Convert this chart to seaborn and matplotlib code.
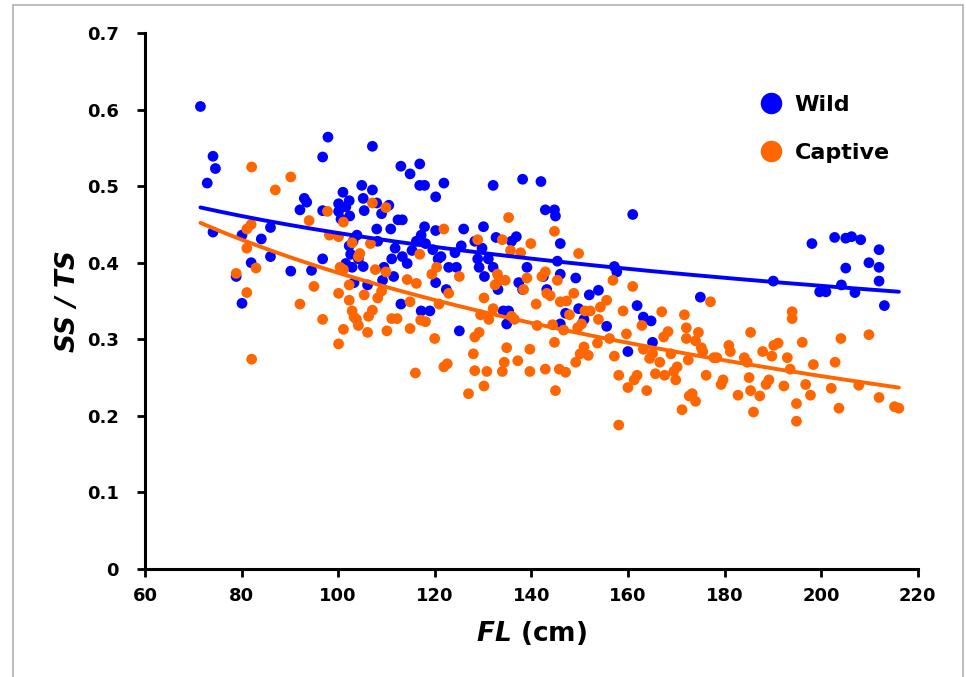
import numpy as np
import pandas as pd
import matplotlib
matplotlib.use("Agg")
import matplotlib.pyplot as plt
from matplotlib.patches import Rectangle
import seaborn as sns

# Datos: FL (cm) y SS/TS
wild_fl = [71.5, 72.9, 74.1, 74.6, 74.1, 78.9, 80.1, 80.1, 82.0, 84.1, 86.0, 86.0,
           90.2, 92.1, 93.0, 93.5, 94.5, 96.8, 96.8, 96.8, 97.9, 100.1, 100.1, 100.6,
           101.0, 101.6, 102.3, 102.4, 101.6, 102.3, 102.6, 102.9, 103.1, 103.9, 103.3,
           104.2, 104.9, 105.2, 105.4, 105.2, 106.1, 107.1, 107.1, 108.0, 108.0, 108.2,
           109.0, 109.2, 109.5, 110.5, 110.9, 111.1, 111.5, 111.8, 112.4, 113.0, 113.3,
           113.3, 113.0, 114.3, 114.9, 115.3, 116.2, 116.9, 116.9, 117.2, 117.9, 117.9,
           117.2, 118.1, 119.0, 119.6, 120.2, 120.2, 120.2, 120.7, 121.3, 121.9, 122.4,
           122.9, 124.2, 124.5, 125.1, 125.5, 126.0, 128.3, 128.9, 129.2, 129.8, 130.1,
           130.3, 131.1, 132.1, 132.1, 132.7, 133.1, 134.2, 134.9, 135.3, 135.9, 136.9,
           137.4, 138.2, 138.2, 139.1, 142.0, 142.5, 142.9, 143.2, 144.8, 145.0, 145.4,
           146.0, 146.0, 146.0, 147.1, 149.2, 149.8, 150.9, 152.0, 153.9, 155.6, 157.2,
           157.7, 160.0, 161.0, 161.9, 163.2, 164.8, 165.1, 175.0, 190.1, 198.1, 199.7,
           201.0, 202.8, 204.2, 205.1, 205.1, 206.3, 207.0, 208.2, 209.9, 212.0, 212.0,
           212.0, 213.1]
wild_ratio = [0.604, 0.504, 0.539, 0.523, 0.440, 0.382, 0.347, 0.436, 0.400, 0.431, 0.446, 0.408,
              0.389, 0.469, 0.484, 0.479, 0.390, 0.538, 0.468, 0.405, 0.564, 0.477, 0.467, 0.457,
              0.492, 0.473, 0.481, 0.461, 0.399, 0.422, 0.411, 0.394, 0.428, 0.436, 0.374,
              0.405, 0.501, 0.484, 0.468, 0.395, 0.371, 0.552, 0.495, 0.478, 0.444, 0.428,
              0.464, 0.377, 0.394, 0.475, 0.444, 0.405, 0.382, 0.419, 0.456, 0.526, 0.456,
              0.408, 0.346, 0.399, 0.516, 0.416, 0.428, 0.529, 0.501, 0.436, 0.501, 0.447,
              0.337, 0.425, 0.337, 0.417, 0.486, 0.442, 0.374, 0.405, 0.408, 0.504, 0.365,
              0.394, 0.413, 0.394, 0.311, 0.422, 0.444, 0.428, 0.405, 0.394, 0.419, 0.447,
              0.382, 0.405, 0.501, 0.394, 0.433, 0.365, 0.337, 0.320, 0.337, 0.428, 0.434,
              0.374, 0.509, 0.365, 0.394, 0.506, 0.382, 0.469, 0.365, 0.469, 0.461, 0.402,
              0.425, 0.385, 0.320, 0.334, 0.380, 0.340, 0.326, 0.358, 0.364, 0.317, 0.395,
              0.388, 0.284, 0.463, 0.344, 0.329, 0.324, 0.296, 0.355, 0.376, 0.425, 0.362,
              0.362, 0.433, 0.371, 0.432, 0.393, 0.434, 0.361, 0.430, 0.400, 0.417, 0.394,
              0.376, 0.344]

captive_fl = [78.9, 81.1, 81.1, 81.1, 82.0, 82.1, 82.1, 83.0, 87.0, 90.2, 92.1, 94.0,
              95.0, 96.8, 97.8, 98.2, 100.1, 100.1, 100.1, 100.4, 101.1, 101.1, 101.1, 102.3,
              102.3, 102.9, 103.3, 103.8, 104.2, 104.2, 104.5, 105.4, 106.1, 106.3, 106.7,
              107.1, 107.1, 107.7, 108.2, 109.0, 109.9, 109.9, 110.1, 111.1, 112.2, 114.3,
              114.9, 114.9, 116.0, 116.2, 116.9, 117.1, 118.1, 119.4, 120.0, 120.4, 120.9,
              121.9, 121.9, 122.6, 122.9, 125.1, 127.0, 128.0, 128.3, 128.3, 128.9, 129.2,
              129.5, 130.2, 130.2, 130.8, 131.2, 132.1, 132.5, 133.0, 133.4, 134.0, 134.0,
              134.4, 134.6, 134.9, 135.3, 135.7, 135.9, 136.5, 137.2, 137.8, 138.4, 139.1,
              139.7, 139.7, 139.9, 141.0, 141.2, 142.2, 142.9, 142.9, 143.2, 143.9, 144.4,
              144.8, 144.8, 145.0, 145.4, 145.8, 146.0, 146.7, 147.1, 147.3, 147.9, 148.8,
              149.2, 149.6, 149.8, 150.1, 150.4, 150.9, 151.1, 151.8, 152.2, 153.7, 153.9,
              154.3, 155.6, 156.2, 156.9, 157.2, 158.1, 158.1, 159.0, 159.7, 160.0, 161.0,
              161.3, 161.9, 162.9, 163.2, 163.9, 164.5, 165.1, 165.7, 166.6, 167.0, 167.4,
              167.6, 168.3, 168.9, 169.5, 169.9, 170.2, 171.2, 171.7, 172.1, 172.1, 172.5,
              172.7, 173.3, 174.0, 174.0, 174.6, 175.2, 175.5, 176.2, 177.1, 177.8, 178.4,
              179.3, 179.7, 180.9, 181.2, 182.8, 184.1, 184.7, 185.1, 185.4, 185.4, 186.0,
              187.3, 187.9, 188.6, 189.2, 189.8, 190.2, 191.1, 192.3, 193.0, 193.6, 194.0,
              194.0, 194.9, 194.9, 196.1, 196.8, 197.8, 198.4, 202.1, 202.9, 203.7, 204.1,
              207.8, 209.9, 212.0, 215.2, 216.1, 102.9]
captive_ratio = [0.386, 0.361, 0.419, 0.444, 0.450, 0.525, 0.274, 0.393, 0.495, 0.512, 0.346, 0.455,
                 0.369, 0.326, 0.467, 0.436, 0.294, 0.360, 0.434, 0.394, 0.391, 0.313, 0.453, 0.371,
                 0.351, 0.337, 0.329, 0.326, 0.318, 0.408, 0.412, 0.358, 0.309, 0.330, 0.425,
                 0.338, 0.478, 0.391, 0.354, 0.363, 0.472, 0.388, 0.311, 0.327, 0.327, 0.378,
                 0.314, 0.349, 0.256, 0.373, 0.411, 0.325, 0.323, 0.385, 0.301, 0.394, 0.346,
                 0.444, 0.264, 0.268, 0.360, 0.382, 0.229, 0.281, 0.303, 0.259, 0.430, 0.309,
                 0.332, 0.354, 0.239, 0.258, 0.326, 0.340, 0.371, 0.385, 0.377, 0.430, 0.258,
                 0.270, 0.377, 0.289, 0.459, 0.416, 0.330, 0.326, 0.272, 0.413, 0.365, 0.380,
                 0.287, 0.258, 0.425, 0.346, 0.318, 0.382, 0.388, 0.261, 0.360, 0.357, 0.319,
                 0.441, 0.296, 0.233, 0.377, 0.261, 0.349, 0.312, 0.257, 0.350, 0.332, 0.360,
                 0.270, 0.315, 0.412, 0.281, 0.320, 0.290, 0.337, 0.279, 0.337, 0.295, 0.326,
                 0.342, 0.351, 0.301, 0.377, 0.278, 0.188, 0.253, 0.337, 0.307, 0.237, 0.369,
                 0.247, 0.253, 0.318, 0.287, 0.233, 0.275, 0.281, 0.255, 0.270, 0.336, 0.303,
                 0.253, 0.310, 0.281, 0.258, 0.247, 0.264, 0.208, 0.332, 0.315, 0.301, 0.273,
                 0.226, 0.229, 0.219, 0.298, 0.309, 0.289, 0.284, 0.253, 0.349, 0.276, 0.276,
                 0.241, 0.247, 0.292, 0.284, 0.227, 0.276, 0.270, 0.250, 0.309, 0.233, 0.205,
                 0.226, 0.284, 0.241, 0.247, 0.278, 0.292, 0.295, 0.239, 0.276, 0.261, 0.336,
                 0.327, 0.216, 0.193, 0.296, 0.241, 0.227, 0.267, 0.236, 0.270, 0.210, 0.301,
                 0.240, 0.306, 0.224, 0.212, 0.210, 0.426]

grupos = ["Wild", "Captive"]
colores = {"Wild": "#0000ff", "Captive": "#ff6600"}
# Ecuacion de la linea de tendencia (y = a + b*ln(FL))
tendencia = {"Wild": (0.897, -0.0995), "Captive": (1.2825, -0.1945)}
y_ticks = [0, 0.1, 0.2, 0.3, 0.4, 0.5, 0.6, 0.7]
y_tick_labels = ["0", "0.1", "0.2", "0.3", "0.4", "0.5", "0.6", "0.7"]
x_ticks = [60, 80, 100, 120, 140, 160, 180, 200, 220]

data = pd.concat([
    pd.DataFrame({"FL": wild_fl, "ratio": wild_ratio, "grupo": "Wild"}),
    pd.DataFrame({"FL": captive_fl, "ratio": captive_ratio, "grupo": "Captive"}),
], ignore_index=True)

sns.set_style("ticks")
plt.rcParams["font.family"] = ["DejaVu Sans"]
plt.rcParams["mathtext.fontset"] = "custom"
plt.rcParams["mathtext.it"] = "DejaVu Sans:italic:bold"
plt.rcParams["mathtext.rm"] = "DejaVu Sans:bold"
plt.rcParams["text.color"] = "black"
plt.rcParams["axes.labelcolor"] = "black"
plt.rcParams["xtick.color"] = "black"
plt.rcParams["ytick.color"] = "black"

fig = plt.figure(figsize=(9.66, 6.77), dpi=100)
ax = fig.add_axes([0.150, 0.1595, 0.800, 0.7918])

sns.scatterplot(data=data, x="FL", y="ratio", hue="grupo", hue_order=grupos,
                palette=colores, s=60, linewidth=0, ax=ax, zorder=2)

# Lineas de tendencia logaritmicas
xs = np.linspace(data["FL"].min(), data["FL"].max(), 200)
for g in grupos:
    a, b = tendencia[g]
    sns.lineplot(x=xs, y=a + b * np.log(xs), color=colores[g], lw=2.8, ax=ax,
                 legend=False, zorder=3)

ax.set_xlim(60, 220)
ax.set_ylim(0, 0.7)
ax.set_xticks(x_ticks)
ax.set_yticks(y_ticks)
ax.set_yticklabels(y_tick_labels)
for lbl in ax.get_xticklabels() + ax.get_yticklabels():
    lbl.set_fontweight("bold")
ax.tick_params(direction="out", length=6, width=2, labelsize=13, color="black")
ax.tick_params(axis="y", pad=13)
ax.tick_params(axis="x", pad=7)
for s in ["left", "bottom"]:
    ax.spines[s].set_linewidth(2.2)
    ax.spines[s].set_color("black")
sns.despine(ax=ax)

ax.set_xlabel("$FL$ (cm)", fontsize=19, fontweight="bold", labelpad=10)
ax.set_ylabel("SS / TS", fontsize=19, fontweight="bold", fontstyle="italic", labelpad=4)

leg = ax.legend(loc="upper left", bbox_to_anchor=(747 / 966, 1 - 84 / 677),
                bbox_transform=fig.transFigure, frameon=False, markerscale=2.0,
                prop={"weight": "bold", "size": 16}, handletextpad=0.45,
                labelspacing=1.25, borderpad=0, handlelength=1.2)

fig.patches.append(Rectangle((13 / 966, -0.01), 950 / 966, 1.0026, transform=fig.transFigure,
                             fill=False, edgecolor="#b0b0b0", lw=1.2))

fig.savefig("out.png", dpi=100)
